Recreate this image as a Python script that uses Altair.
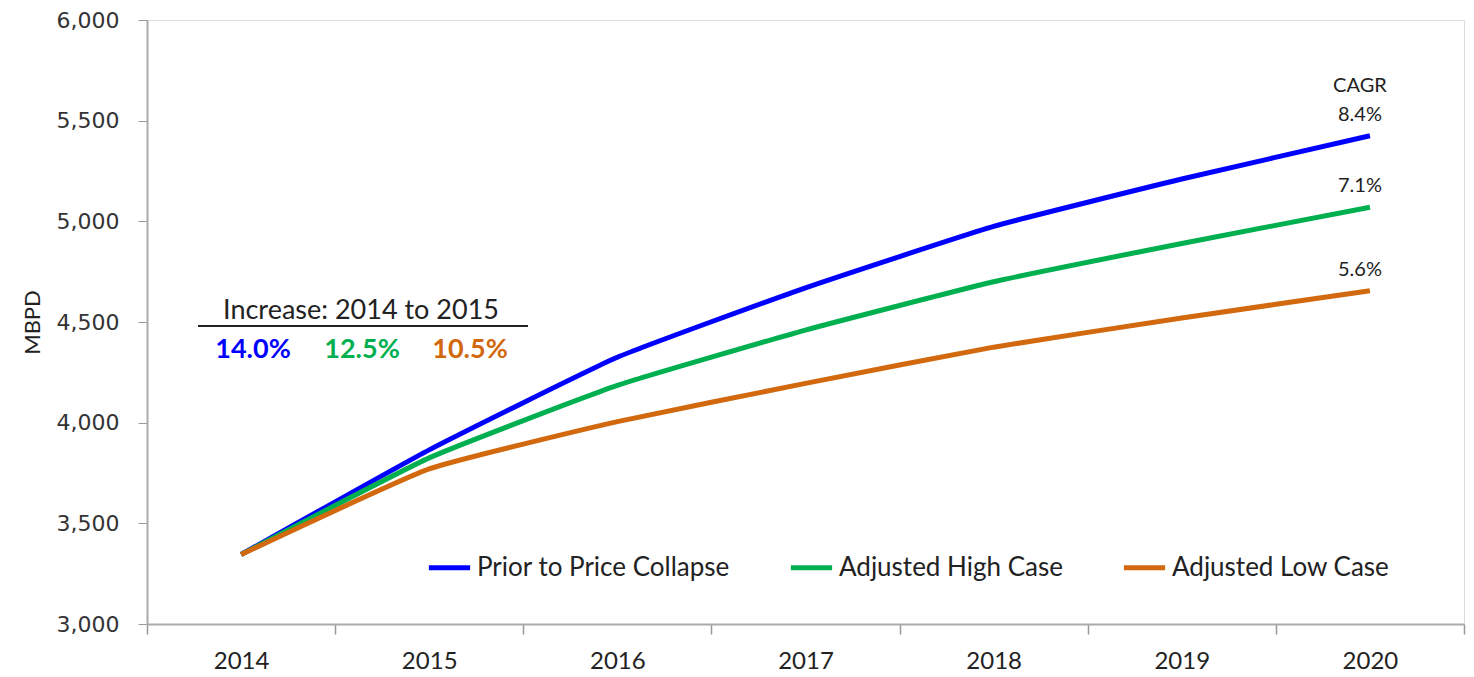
import altair as alt
import pandas as pd

years = [2014, 2015, 2016, 2017, 2018, 2019, 2020]
prior = [3345, 3865, 4325, 4670, 4975, 5210, 5425]
high = [3345, 3825, 4185, 4460, 4700, 4890, 5070]
low = [3345, 3770, 4005, 4195, 4375, 4520, 4655]
series = ["Prior to Price Collapse", "Adjusted High Case", "Adjusted Low Case"]
colors = ["#0000FF", "#00B050", "#D2690F"]
cagr = ["8.4%", "7.1%", "5.6%"]
increase = ["14.0%", "12.5%", "10.5%"]

rows = []
for name, vals in zip(series, [prior, high, low]):
    for y, v in zip(years, vals):
        rows.append({"year": str(y), "value": v, "series": name})
df = pd.DataFrame(rows)

W, H = 1317, 604

xenc = alt.X("year:O", bandPosition=0.5,
             scale=alt.Scale(type="band", paddingInner=0, paddingOuter=0),
             axis=alt.Axis(title=None, tickBand="extent", labelAngle=0,
                           labelFont="Lato", labelFontSize=24, labelColor="#222",
                           labelPadding=15, tickSize=10, tickColor="#999",
                           domainColor="#aaa", domainWidth=2, tickWidth=1.5))
yenc = alt.Y("value:Q", scale=alt.Scale(domain=[3000, 6000], nice=False, zero=False),
             axis=alt.Axis(title="MBPD", values=[3000, 3500, 4000, 4500, 5000, 5500, 6000],
                           format=",.0f", grid=False, labelFont="DejaVu Sans", labelFontSize=22,
                           labelColor="#333", labelPadding=19, tickSize=9, tickColor="#999",
                           domainColor="#aaa", domainWidth=2, titleFont="Lato",
                           titleFontSize=22, titleFontWeight="normal", titleColor="#222",
                           titlePadding=12))

lines = alt.Chart(df).mark_line(strokeWidth=5, interpolate="cardinal", tension=0.6).encode(
    x=xenc, y=yenc,
    color=alt.Color("series:N", scale=alt.Scale(domain=series, range=colors),
                    sort=series,
                    legend=alt.Legend(title=None, orient="none", legendX=279, legendY=524,
                                      direction="horizontal", symbolType="stroke",
                                      symbolStrokeWidth=5, symbolSize=1700,
                                      labelFont="Lato", labelFontSize=26, labelColor="#222",
                                      columnPadding=50, labelOffset=4, labelLimit=400)),
)

last = pd.DataFrame({"year": ["2020"] * 3, "value": [prior[-1], high[-1], low[-1]],
                     "label": cagr})
cagr_text = alt.Chart(last).mark_text(font="Lato", fontSize=20, color="#222", dx=-10, dy=-21).encode(
    x=alt.X("year:O", bandPosition=0.5), y="value:Q", text="label:N")
cagr_head = alt.Chart(pd.DataFrame({"year": ["2020"], "value": [prior[-1]], "t": ["CAGR"]})).mark_text(
    font="Lato", fontSize=20, color="#222", dx=-10, dy=-50).encode(
    x=alt.X("year:O", bandPosition=0.5), y="value:Q", text="t:N")

inc_title = alt.Chart(pd.DataFrame({"t": ["Increase:  2014 to 2015"]})).mark_text(
    font="Lato", fontSize=27, color="#222").encode(
    x=alt.value(214), y=alt.value(291), text="t:N")
inc_rule = alt.Chart(pd.DataFrame({"a": [0]})).mark_rule(color="#222", strokeWidth=2).encode(
    x=alt.value(51), x2=alt.value(381), y=alt.value(306))
inc_df = pd.DataFrame({"label": increase, "series": series, "px": [106, 215, 323]})
inc_vals = alt.Chart(inc_df).mark_text(font="Lato", fontSize=27, fontWeight="bold").encode(
    x=alt.X("px:Q", scale=None), y=alt.value(330), text="label:N",
    color=alt.Color("series:N", scale=alt.Scale(domain=series, range=colors), legend=None))

chart = alt.layer(lines, cagr_text, cagr_head, inc_title, inc_rule, inc_vals).properties(
    width=W, height=H,
    autosize=alt.AutoSizeParams(type="none"),
    padding={"left": 139, "top": 12, "right": 2, "bottom": 53},
).configure_view(stroke=None).configure(background="white")

chart.save("out.html", embed_options={"renderer": "svg", "actions": False})
